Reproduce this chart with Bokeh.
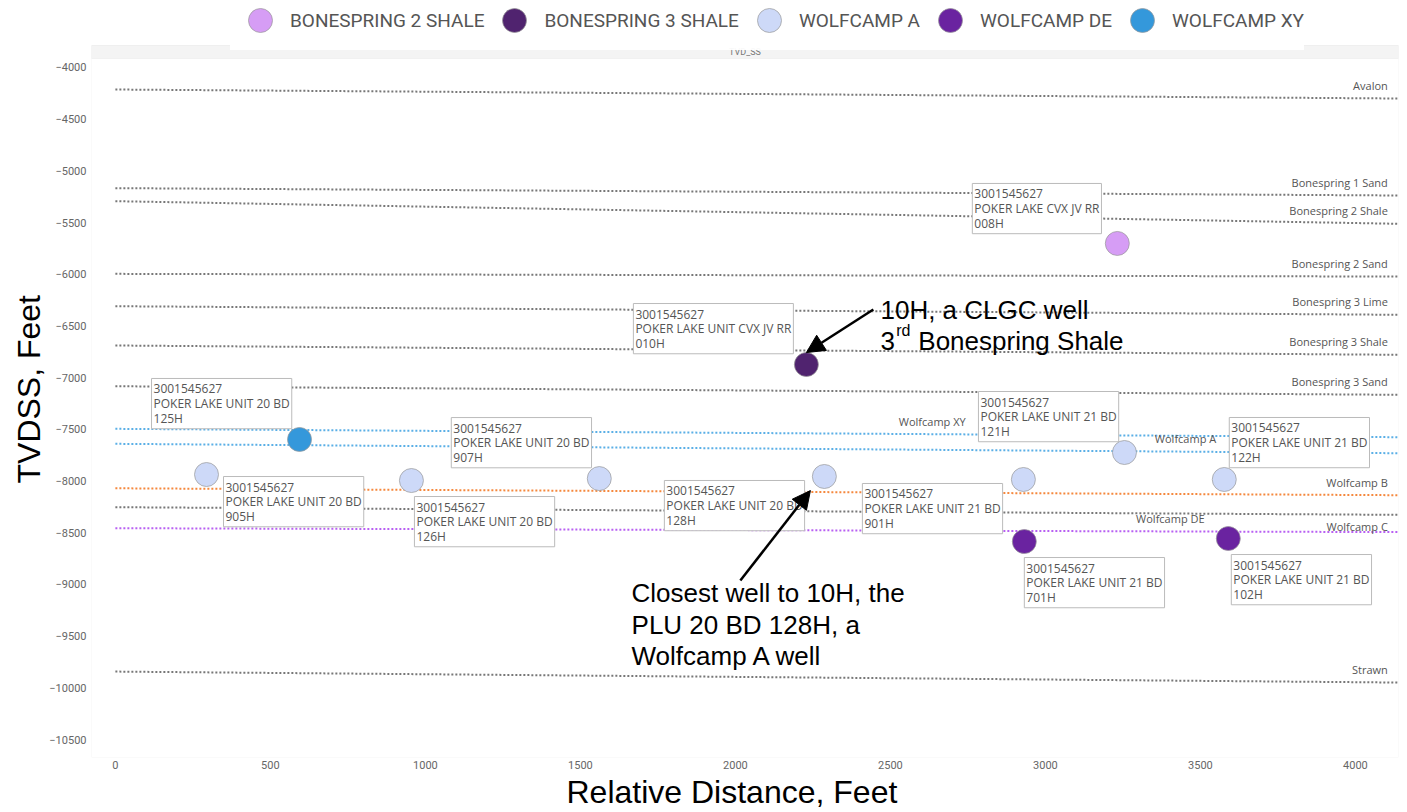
from bokeh.plotting import figure
from bokeh.models import (Range1d, Legend, LegendItem, BoxAnnotation, Arrow, NormalHead, ColumnDataSource,
                          FixedTicker, Title)
from bokeh.core.properties import value
from bokeh.embed import file_html
from bokeh.resources import INLINE

# ---------------- data ----------------
formation_names = ["Avalon", "Bonespring 1 Sand", "Bonespring 2 Shale", "Bonespring 2 Sand",
                   "Bonespring 3 Lime", "Bonespring 3 Shale", "Bonespring 3 Sand",
                   "Wolfcamp XY", "Wolfcamp A", "Wolfcamp B", "Wolfcamp C", "Wolfcamp DE", "Strawn"]
formation_top_start = [-4213, -5167, -5293, -5996, -6309, -6689, -7083, -7495, -7640, -8070, -8253, -8456, -9843]
formation_top_end = [-4300, -5238, -5512, -6022, -6392, -6779, -7166, -7576, -7731, -8137, -8327, -8494, -9949]
formation_colors = ["#777777"] * 7 + ["#5aafe6", "#5aafe6", "#f5883d", "#777777", "#b860f2", "#777777"]

well_dist = [3232, 2229, 594, 294, 955, 1561, 2287, 2929, 3255, 3577, 2932, 3590]
well_tvdss = [-5702, -6873, -7598, -7937, -7995, -7976, -7956, -7985, -7724, -7985, -8585, -8556]
well_zone = ["BONESPRING 2 SHALE", "BONESPRING 3 SHALE", "WOLFCAMP XY",
             "WOLFCAMP A", "WOLFCAMP A", "WOLFCAMP A", "WOLFCAMP A", "WOLFCAMP A", "WOLFCAMP A", "WOLFCAMP A",
             "WOLFCAMP DE", "WOLFCAMP DE"]
well_api = ["3001545627"] * 12
well_lease = ["POKER LAKE CVX JV RR", "POKER LAKE UNIT CVX JV RR", "POKER LAKE UNIT 20 BD",
              "POKER LAKE UNIT 20 BD", "POKER LAKE UNIT 20 BD", "POKER LAKE UNIT 20 BD", "POKER LAKE UNIT 20 BD",
              "POKER LAKE UNIT 21 BD", "POKER LAKE UNIT 21 BD", "POKER LAKE UNIT 21 BD",
              "POKER LAKE UNIT 21 BD", "POKER LAKE UNIT 21 BD"]
well_number = ["008H", "010H", "125H", "905H", "126H", "907H", "128H", "901H", "121H", "122H", "701H", "102H"]

zones = ["BONESPRING 2 SHALE", "BONESPRING 3 SHALE", "WOLFCAMP A", "WOLFCAMP DE", "WOLFCAMP XY"]
zone_colors = ["#d69df5", "#50236f", "#cdd9f8", "#6a23a0", "#3498db"]

x_ticks = list(range(0, 4001, 500))
y_ticks = list(range(-10500, -3999, 500))

# ---------------- layout helpers ----------------
X0, X1 = -77, 4139
Y0, Y1 = -10674, -3352          # upper part of the frame holds the legend
BAND_LO, BAND_HI = -3913, -3787  # grey header band "TVD_SS"
LINE_END = 4140
FRAME_H = 757
# label offsets (screen px) from each well marker to its call-out box
lab_dx = [-145, -173, -148, 17, 3, -148, -160, -161, -146, 5, 0, 3]
lab_dy = [-60, -61, -61, 2, 16, -61, 4, 4, -61, -62, 16, 16]

FONT = "Roboto"
LFONT = "Open Sans"
AFONT = "Liberation Sans"
p = figure(frame_width=1307, frame_height=FRAME_H, x_range=Range1d(X0, X1), y_range=Range1d(Y0, Y1),
           output_backend="svg", toolbar_location=None,
           min_border_left=91, min_border_right=2, min_border_top=0, min_border_bottom=0)
p.grid.visible = False
p.outline_line_color = None
p.background_fill_color = "white"

for ax in (p.xaxis, p.yaxis):
    ax.axis_line_color = None
    ax.major_tick_line_color = None
    ax.minor_tick_line_color = None
    ax.major_tick_out = 0
    ax.major_tick_in = 0
    ax.major_label_text_font = FONT
    ax.major_label_text_font_size = "11px"
    ax.major_label_text_color = "#666666"
p.xaxis.ticker = FixedTicker(ticks=x_ticks)
p.yaxis.ticker = FixedTicker(ticks=y_ticks)
p.xaxis.major_label_standoff = 3
p.yaxis.major_label_standoff = 5

# axis titles (as titles so they can be nudged off-centre like the reference)
p.add_layout(Title(text="Relative Distance, Feet", align="left", offset=475, standoff=0,
                   text_font=AFONT, text_font_size="32px", text_font_style="normal", text_color="black"),
             "below")
p.add_layout(Title(text="TVDSS, Feet", align="left", offset=274, standoff=0,
                   text_font=AFONT, text_font_size="32px", text_font_style="normal", text_color="black"),
             "left")

# plot border and header band
p.add_layout(BoxAnnotation(top=BAND_HI, fill_alpha=0, line_color="#dddddd", line_width=1, level="underlay"))
p.add_layout(BoxAnnotation(bottom=BAND_LO, top=BAND_HI, fill_color="#f4f4f4", fill_alpha=1.0,
                           line_color="#dddddd", line_width=1, level="underlay"))
p.text(x=[(X0 + X1) / 2], y=[(BAND_LO + BAND_HI) / 2], text=["TVD_SS"], text_font=value(FONT),
       text_font_size="9px", text_color="#777777", text_align="center", text_baseline="middle")

# formation tops
fsrc = ColumnDataSource(dict(xs=[[0, LINE_END]] * len(formation_names),
                             ys=[[a, b] for a, b in zip(formation_top_start, formation_top_end)],
                             color=formation_colors))
p.multi_line(xs="xs", ys="ys", line_color="color", line_width=2, line_dash="2 2", source=fsrc)

# formation labels
mid_label_x = {"Wolfcamp XY": 2635, "Wolfcamp A": 3452, "Wolfcamp DE": 3403}
lx, ly, lt, la, loff = [], [], [], [], []
for n, a, b in zip(formation_names, formation_top_start, formation_top_end):
    if n in mid_label_x:
        x = mid_label_x[n]
        lx.append(x); la.append("center")
    else:
        x = LINE_END
        lx.append(x); la.append("right")
    ly.append(a + (b - a) * x / LINE_END)
    lt.append(n)
    loff.append(12 if n == "Wolfcamp C" else -13)
p.text(x="x", y="y", text="t", text_align="a", y_offset="o", x_offset="xo",
       source=ColumnDataSource(dict(x=lx, y=ly, t=lt, a=la, o=loff,
                                    xo=[0 if a_ == "center" else -11 for a_ in la])),
       text_font=value(LFONT), text_font_size="11px", text_color="#555555", text_baseline="middle")

# call-out boxes
wsrc = ColumnDataSource(dict(x=well_dist, y=well_tvdss, dx=lab_dx, dy=lab_dy,
                             t=[f"{a}\n{b}\n{c}" for a, b, c in zip(well_api, well_lease, well_number)]))
p.text(x="x", y="y", text="t", x_offset="dx", y_offset="dy", source=wsrc,
       text_font=value(LFONT), text_font_size="12px", text_color="#555555",
       text_align="left", text_baseline="top", text_line_height=0.86,
       background_fill_color="white", border_line_color="#bbbbbb", border_line_width=1, padding=2)

# wells
items = []
for z, c in zip(zones, zone_colors):
    idx = [i for i, wz in enumerate(well_zone) if wz == z]
    r = p.scatter(x=[well_dist[i] for i in idx], y=[well_tvdss[i] for i in idx], size=24,
                  fill_color=c, line_color="#999999", line_alpha=0.7, line_width=1)
    items.append(LegendItem(label=z, renderers=[r]))

# legend: marker legend glyphs are drawn at 0.4 x the glyph box, so a 60px box gives 24px circles
legend = Legend(items=items, orientation="horizontal", location=(139, FRAME_H - 50),
                label_text_font=FONT, label_text_font_size="19px", label_text_color="#555555",
                glyph_width=60, glyph_height=60, spacing=0, label_standoff=0,
                padding=0, margin=0, border_line_color=None, background_fill_color="white")
p.add_layout(legend, "center")

# annotations
p.text(x=[2468], y=[-6341], text=["10H, a CLGC well"], text_font=value(AFONT),
       text_font_size="26px", text_color="black", text_baseline="middle")
p.text(x=[2468], y=[-6641], text=["3"], text_font=value(AFONT),
       text_font_size="26px", text_color="black", text_baseline="middle")
p.text(x=[2519], y=[-6544], text=["rd"], text_font=value(AFONT),
       text_font_size="16px", text_color="black", text_baseline="middle")
p.text(x=[2590], y=[-6641], text=["Bonespring Shale"], text_font=value(AFONT),
       text_font_size="26px", text_color="black", text_baseline="middle")
p.text(x=[1665], y=[-9388], text=["Closest well to 10H, the\nPLU 20 BD 128H, a\nWolfcamp A well"],
       text_font=value(AFONT), text_font_size="26px", text_color="black",
       text_baseline="middle", text_line_height=1.04)

head = dict(size=18, fill_color="black", line_color="black")
p.add_layout(Arrow(end=NormalHead(**head), x_start=2445, y_start=-6341, x_end=2229, y_end=-6757,
                   line_width=2.5, line_color="black"))
p.add_layout(Arrow(end=NormalHead(**head), x_start=2016, y_start=-8962, x_end=2242, y_end=-8092,
                   line_width=2.5, line_color="black"))

open("out.html", "w").write(file_html(p, INLINE))
